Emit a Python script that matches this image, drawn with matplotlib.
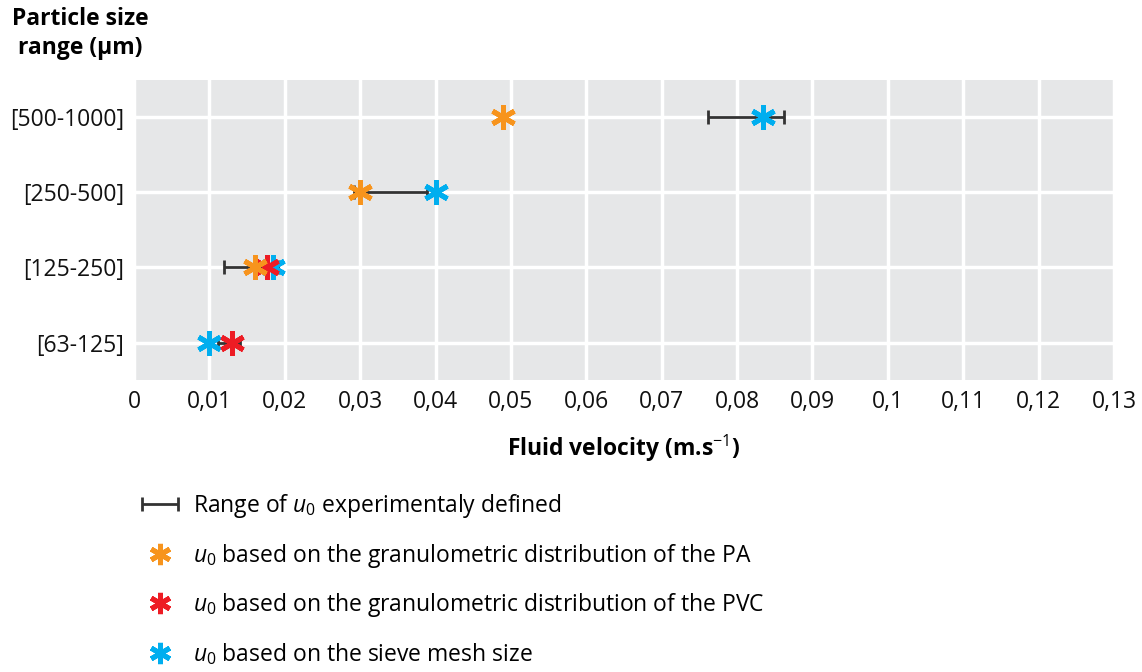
import numpy as np
import matplotlib
matplotlib.use("Agg")
import matplotlib.pyplot as plt
from matplotlib.container import ErrorbarContainer
from matplotlib.legend_handler import HandlerErrorbar

plt.rcParams['font.family'] = ['Open Sans', 'DejaVu Sans']
plt.rcParams['mathtext.fontset'] = 'custom'
plt.rcParams['mathtext.rm'] = 'Open Sans'
plt.rcParams['mathtext.it'] = 'Open Sans:italic'
plt.rcParams['mathtext.bf'] = 'Open Sans:bold'

# particle size classes, bottom to top
categories = ['[63-125]', '[125-250]', '[250-500]', '[500-1000]']
u0_min = [0.0112, 0.0120, 0.0292, 0.0762]
u0_max = [0.0141, 0.0191, 0.0389, 0.0862]
u0_pa = [np.nan, 0.0160, 0.0300, 0.0490]
u0_pvc = [0.0130, 0.0176, np.nan, np.nan]
u0_sieve = [0.0100, 0.0185, 0.0401, 0.0835]
xticks = np.arange(0, 0.131, 0.01)
xticklabels = ['0', '0,01', '0,02', '0,03', '0,04', '0,05', '0,06', '0,07',
               '0,08', '0,09', '0,1', '0,11', '0,12', '0,13']

orange = '#f7941d'
red = '#ed1c24'
blue = '#00aeef'

fig = plt.figure(figsize=(11.42, 6.72), dpi=100)
ax = fig.add_axes([0.1173, 0.4345, 0.8582, 0.4465])
ax.set_facecolor('#e6e7e8')

y = np.arange(len(categories))
lo = np.array(u0_min)
hi = np.array(u0_max)
eb = ax.errorbar((lo + hi) / 2, y, xerr=(hi - lo) / 2, fmt='none',
                 ecolor='#333333', elinewidth=2, capsize=5, capthick=2, zorder=3)

star = dict(marker=(6, 2, 0), markersize=18, markeredgewidth=3.6, linestyle='none', zorder=4)
s_sieve, = ax.plot(u0_sieve, y, color=blue, markeredgecolor=blue, **star)
s_pvc, = ax.plot(u0_pvc, y, color=red, markeredgecolor=red, **star)
s_pa, = ax.plot(u0_pa, y, color=orange, markeredgecolor=orange, **star)

ax.set_xlim(0, 0.13)
ax.set_ylim(-0.5, 3.5)
ax.set_xticks(xticks)
ax.set_xticklabels(xticklabels)
ax.set_yticks(y)
ax.set_yticklabels(categories)
ax.tick_params(length=0, labelsize=16.5, colors='#111111', pad=7)
ax.grid(True, color='white', linewidth=2.5)
ax.set_axisbelow(True)
for sp in ax.spines.values():
    sp.set_visible(False)

ax.set_xlabel(r'Fluid velocity (m.s$^{\mathrm{-1}}$)', fontsize=16.5, fontweight='bold', labelpad=14)
fig.text(0.07, 0.91, 'Particle size\nrange (µm)', fontsize=16.5, fontweight='bold',
         ha='center', va='bottom', linespacing=1.3)

fig.legend([eb, s_pa, s_pvc, s_sieve],
           [r'Range of $u_0$ experimentaly defined',
            r'$u_0$ based on the granulometric distribution of the PA',
            r'$u_0$ based on the granulometric distribution of the PVC',
            r'$u_0$ based on the sieve mesh size'],
           handler_map={ErrorbarContainer: HandlerErrorbar(xerr_size=0.78)},
           loc='upper left', bbox_to_anchor=(0.121, 0.268), frameon=False,
           fontsize=16.5, labelspacing=0.95, handlelength=1.9, handletextpad=0.5,
           markerscale=0.85, borderpad=0, borderaxespad=0)

fig.savefig('out.png', dpi=100, facecolor='white')
